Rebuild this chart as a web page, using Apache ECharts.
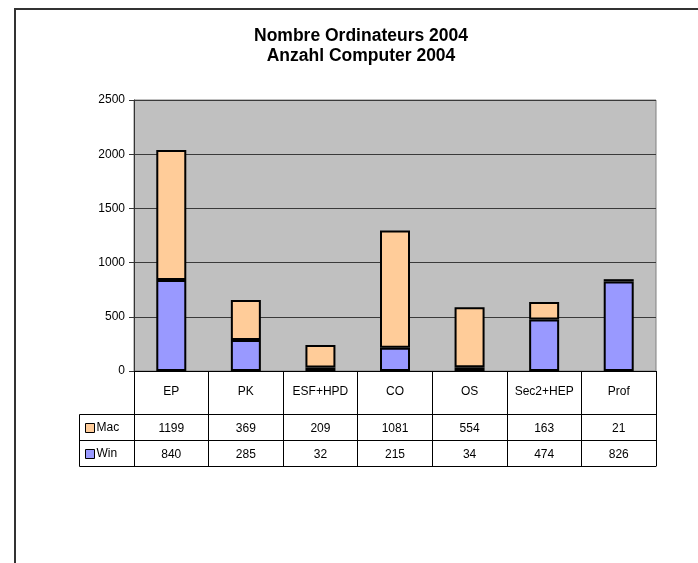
<!DOCTYPE html>
<html>
<head>
<meta charset="utf-8">
<script src="https://cdn.jsdelivr.net/npm/echarts@6/dist/echarts.min.js"></script>
<style>
	html, body { margin: 0; padding: 0; background: #fff; }
	#chart { width: 698px; height: 563px; }
</style>
</head>
<body>
<div id="chart"></div>
<script>
var categories = ['EP', 'PK', 'ESF+HPD', 'CO', 'OS', 'Sec2+HEP', 'Prof'];
var macData = [1199, 369, 209, 1081, 554, 163, 21];
var winData = [840, 285, 32, 215, 34, 474, 826];
var yTicks = [0, 500, 1000, 1500, 2000, 2500];

var FONT = 'Liberation Sans, Arial, sans-serif';

var chart = echarts.init(document.getElementById('chart'));

// lignes du tableau de données (sous l'axe)
function tableAxis(offset, values, show) {
	return {
		type: 'category',
		data: categories,
		position: 'bottom',
		offset: offset,
		axisLine: { show: true, lineStyle: { color: '#000', width: 1 } },
		axisTick: { show: false },
		axisLabel: {
			show: show,
			interval: 0,
			margin: 9,
			fontFamily: FONT,
			fontSize: 12,
			color: '#000',
			formatter: function (v, i) { return values ? String(values[i]) : ''; }
		}
	};
}

var option = {
	animation: false,
	backgroundColor: '#fff',
	title: {
		text: 'Nombre Ordinateurs 2004\nAnzahl Computer 2004',
		left: 356,
		top: 21,
		textAlign: 'center',
		textStyle: {
			fontFamily: FONT,
			fontSize: 17.5,
			fontWeight: 'bold',
			color: '#000',
			lineHeight: 20
		}
	},
	legend: {
		data: ['Mac', 'Win'],
		orient: 'vertical',
		left: 80,
		top: 416,
		itemGap: 12,
		itemWidth: 9,
		itemHeight: 9,
		icon: 'rect',
		itemStyle: { borderWidth: 1, borderColor: '#000' },
		textStyle: { fontFamily: FONT, fontSize: 12, color: '#000', padding: [0, 0, 0, -3], lineHeight: 14 }
	},
	grid: {
		left: 134,
		right: 42,
		top: 100,
		bottom: 192,
		show: true,
		backgroundColor: '#C0C0C0',
		borderColor: '#808080',
		borderWidth: 1,
		containLabel: false
	},
	xAxis: [
		{
			type: 'category',
			data: categories,
			position: 'bottom',
			axisLine: { show: true, lineStyle: { color: '#000', width: 1 } },
			axisTick: { show: true, interval: 0, length: 95, lineStyle: { color: '#000', width: 1 } },
			axisLabel: { interval: 0, margin: 15, fontFamily: FONT, fontSize: 12, color: '#000' }
		},
		tableAxis(43, macData, true),
		tableAxis(69, winData, true),
		tableAxis(95, null, false)
	],
	yAxis: {
		type: 'value',
		min: yTicks[0],
		max: yTicks[yTicks.length - 1],
		interval: 500,
		axisLine: { show: true, lineStyle: { color: '#333', width: 1 } },
		axisTick: { show: true, length: 5, lineStyle: { color: '#333' } },
		axisLabel: {
			margin: 9,
			fontFamily: FONT,
			fontSize: 12,
			color: '#000',
			formatter: function (v) { return String(v); }
		},
		splitLine: { show: true, lineStyle: { color: '#3a3a3a', width: 1 } }
	},
	series: [
		{
			name: 'Win',
			type: 'bar',
			stack: 'total',
			barWidth: 30,
			data: winData,
			itemStyle: { color: '#9999FF', borderColor: '#000', borderWidth: 2 }
		},
		{
			name: 'Mac',
			type: 'bar',
			stack: 'total',
			barWidth: 30,
			data: macData,
			itemStyle: { color: '#FFCC99', borderColor: '#000', borderWidth: 2 }
		}
	],
	graphic: [
		// cadre extérieur
		{ type: 'rect', shape: { x: 15, y: 9, width: 720, height: 600 }, style: { fill: 'none', stroke: '#333', lineWidth: 2 }, silent: true },
		// colonne de légende du tableau
		{ type: 'polyline', shape: { points: [[134, 414.5], [79.5, 414.5], [79.5, 466.5], [134, 466.5]] }, style: { fill: 'none', stroke: '#000', lineWidth: 1 }, silent: true },
		{ type: 'line', shape: { x1: 79.5, y1: 440.5, x2: 134, y2: 440.5 }, style: { stroke: '#000', lineWidth: 1 }, silent: true }
	]
};

chart.setOption(option);
</script>
</body>
</html>
